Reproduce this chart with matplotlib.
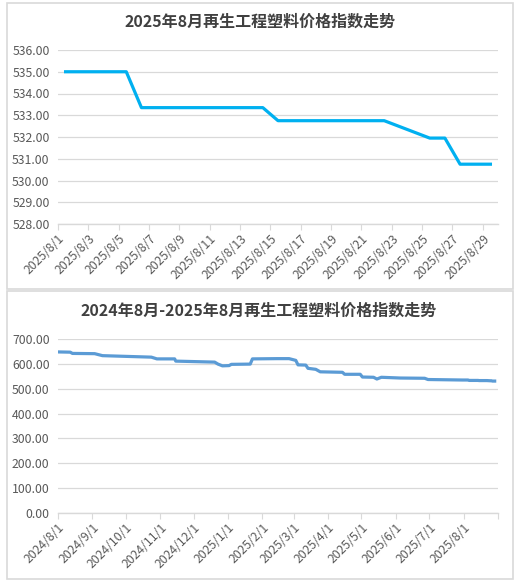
import matplotlib
matplotlib.use("Agg")
import matplotlib.pyplot as plt
import matplotlib.dates as mdates
from matplotlib.patches import Rectangle
import datetime as dt

plt.rcParams['font.family'] = ['Noto Sans CJK SC', 'DejaVu Sans']

# ---- Top chart data: August 2025 (trading days) ----
aug_dates = ["2025-08-01", "2025-08-04", "2025-08-05", "2025-08-06", "2025-08-07",
             "2025-08-08", "2025-08-11", "2025-08-12", "2025-08-13", "2025-08-14",
             "2025-08-15", "2025-08-18", "2025-08-19", "2025-08-20", "2025-08-21",
             "2025-08-22", "2025-08-25", "2025-08-26", "2025-08-27", "2025-08-28",
             "2025-08-29"]
aug_values = [535.00, 535.00, 535.00, 533.35, 533.35,
              533.35, 533.35, 533.35, 533.35, 533.35,
              532.75, 532.75, 532.75, 532.75, 532.75,
              532.75, 531.95, 531.95, 530.75, 530.75,
              530.75]
aug_tick_days = list(range(1, 30, 2))
top_yticks = [528, 529, 530, 531, 532, 533, 534, 535, 536]

# ---- Bottom chart data: Aug 2024 - Aug 2025 ----
year_dates = ["2024-08-01", "2024-08-12", "2024-08-14", "2024-09-03", "2024-09-10",
              "2024-10-24", "2024-10-29", "2024-11-14", "2024-11-15", "2024-12-20",
              "2024-12-23", "2024-12-27", "2025-01-02", "2025-01-04", "2025-01-21",
              "2025-01-23", "2025-02-14", "2025-02-25", "2025-03-03", "2025-03-05",
              "2025-03-12", "2025-03-14", "2025-03-21", "2025-03-25", "2025-04-14",
              "2025-04-16", "2025-04-30", "2025-05-02", "2025-05-12", "2025-05-15",
              "2025-05-19", "2025-06-05", "2025-06-27", "2025-06-30", "2025-07-31",
              "2025-08-05", "2025-08-06", "2025-08-14", "2025-08-15", "2025-08-22",
              "2025-08-25", "2025-08-26", "2025-08-27", "2025-08-29"]
year_values = [648, 647, 642, 641, 633,
               627, 620, 620, 611, 607,
               599, 592, 593, 598, 599,
               620, 621, 621, 614, 596,
               595, 582, 578, 568, 566,
               558, 558, 547, 546, 539,
               546, 543, 542, 537, 535,
               535, 533.35, 533.35, 532.75, 532.75,
               531.95, 531.95, 530.75, 530.75]
month_ticks = ["2024-08-01", "2024-09-01", "2024-10-01", "2024-11-01", "2024-12-01",
               "2025-01-01", "2025-02-01", "2025-03-01", "2025-04-01", "2025-05-01",
               "2025-06-01", "2025-07-01", "2025-08-01", "2025-09-01"]
bottom_yticks = [0, 100, 200, 300, 400, 500, 600, 700]

TXT = '#595959'
GRID = '#D9D9D9'

def to_dt(s):
    return dt.datetime.strptime(s, "%Y-%m-%d")

def fmt_date(d):
    return f"{d.year}/{d.month}/{d.day}"

W, H = 519, 582
fig = plt.figure(figsize=(W / 100, H / 100), dpi=100)

# panel borders
for (x0, y0, x1, y1) in [(7, 3, 513, 289), (7, 291, 513, 579)]:
    fig.add_artist(Rectangle((x0 / W, 1 - y1 / H), (x1 - x0) / W, (y1 - y0) / H,
                             transform=fig.transFigure, fill=False,
                             edgecolor=GRID, lw=1.2))

def style_axes(ax):
    for s in ['left', 'right', 'top']:
        ax.spines[s].set_visible(False)
    ax.spines['bottom'].set_color(GRID)
    ax.spines['bottom'].set_linewidth(1.0)
    ax.grid(axis='y', color=GRID, lw=0.9)
    ax.set_axisbelow(True)
    ax.tick_params(axis='y', length=0, labelsize=8.8, labelcolor=TXT, pad=6)
    ax.tick_params(axis='x', length=4, color=GRID, labelsize=8.8, labelcolor=TXT,
                   direction='out', pad=2)

# ---- top axes ----
ax1 = fig.add_axes([58 / W, 1 - 224 / H, 440 / W, 174 / H])
d1 = [to_dt(s) for s in aug_dates]
ax1.plot(d1, aug_values, color='#00B0F0', lw=2.3, solid_joinstyle='round')
start = mdates.date2num(dt.datetime(2025, 8, 1)) - 0.5
end = mdates.date2num(dt.datetime(2025, 8, 29)) + 0.5
ax1.set_xlim(start, end)
ax1.set_ylim(528, 536)
ax1.set_yticks(top_yticks)
ax1.set_yticklabels([f"{v:.2f}" for v in top_yticks])
tpos = [mdates.date2num(dt.datetime(2025, 8, d)) - 0.5 for d in aug_tick_days]
ax1.set_xticks(tpos)
ax1.set_xticklabels([f"2025/8/{d}" for d in aug_tick_days], rotation=45,
                    ha='right', rotation_mode='anchor')
style_axes(ax1)
fig.text(260 / W, 1 - 22 / H, "2025年8月再生工程塑料价格指数走势", ha='center',
         va='center', fontsize=11.5, fontweight='bold', color='#404040')

# ---- bottom axes ----
ax2 = fig.add_axes([58 / W, 1 - 513 / H, 440 / W, 174 / H])
d2 = [to_dt(s) for s in year_dates]
ax2.plot(d2, year_values, color='#5B9BD5', lw=2.3, solid_joinstyle='round')
mt = [to_dt(s) for s in month_ticks]
ax2.set_xlim(mdates.date2num(mt[0]), mdates.date2num(mt[-1]))
ax2.set_ylim(0, 700)
ax2.set_yticks(bottom_yticks)
ax2.set_yticklabels([f"{v:.2f}" for v in bottom_yticks])
ax2.set_xticks([mdates.date2num(d) for d in mt])
ax2.set_xticklabels([fmt_date(d) for d in mt[:-1]] + [""], rotation=45,
                    ha='right', rotation_mode='anchor')
style_axes(ax2)
fig.text(259 / W, 1 - 311 / H, "2024年8月-2025年8月再生工程塑料价格指数走势",
         ha='center', va='center', fontsize=11.5, fontweight='bold', color='#404040')

fig.savefig("out.png", dpi=100, facecolor='white')
